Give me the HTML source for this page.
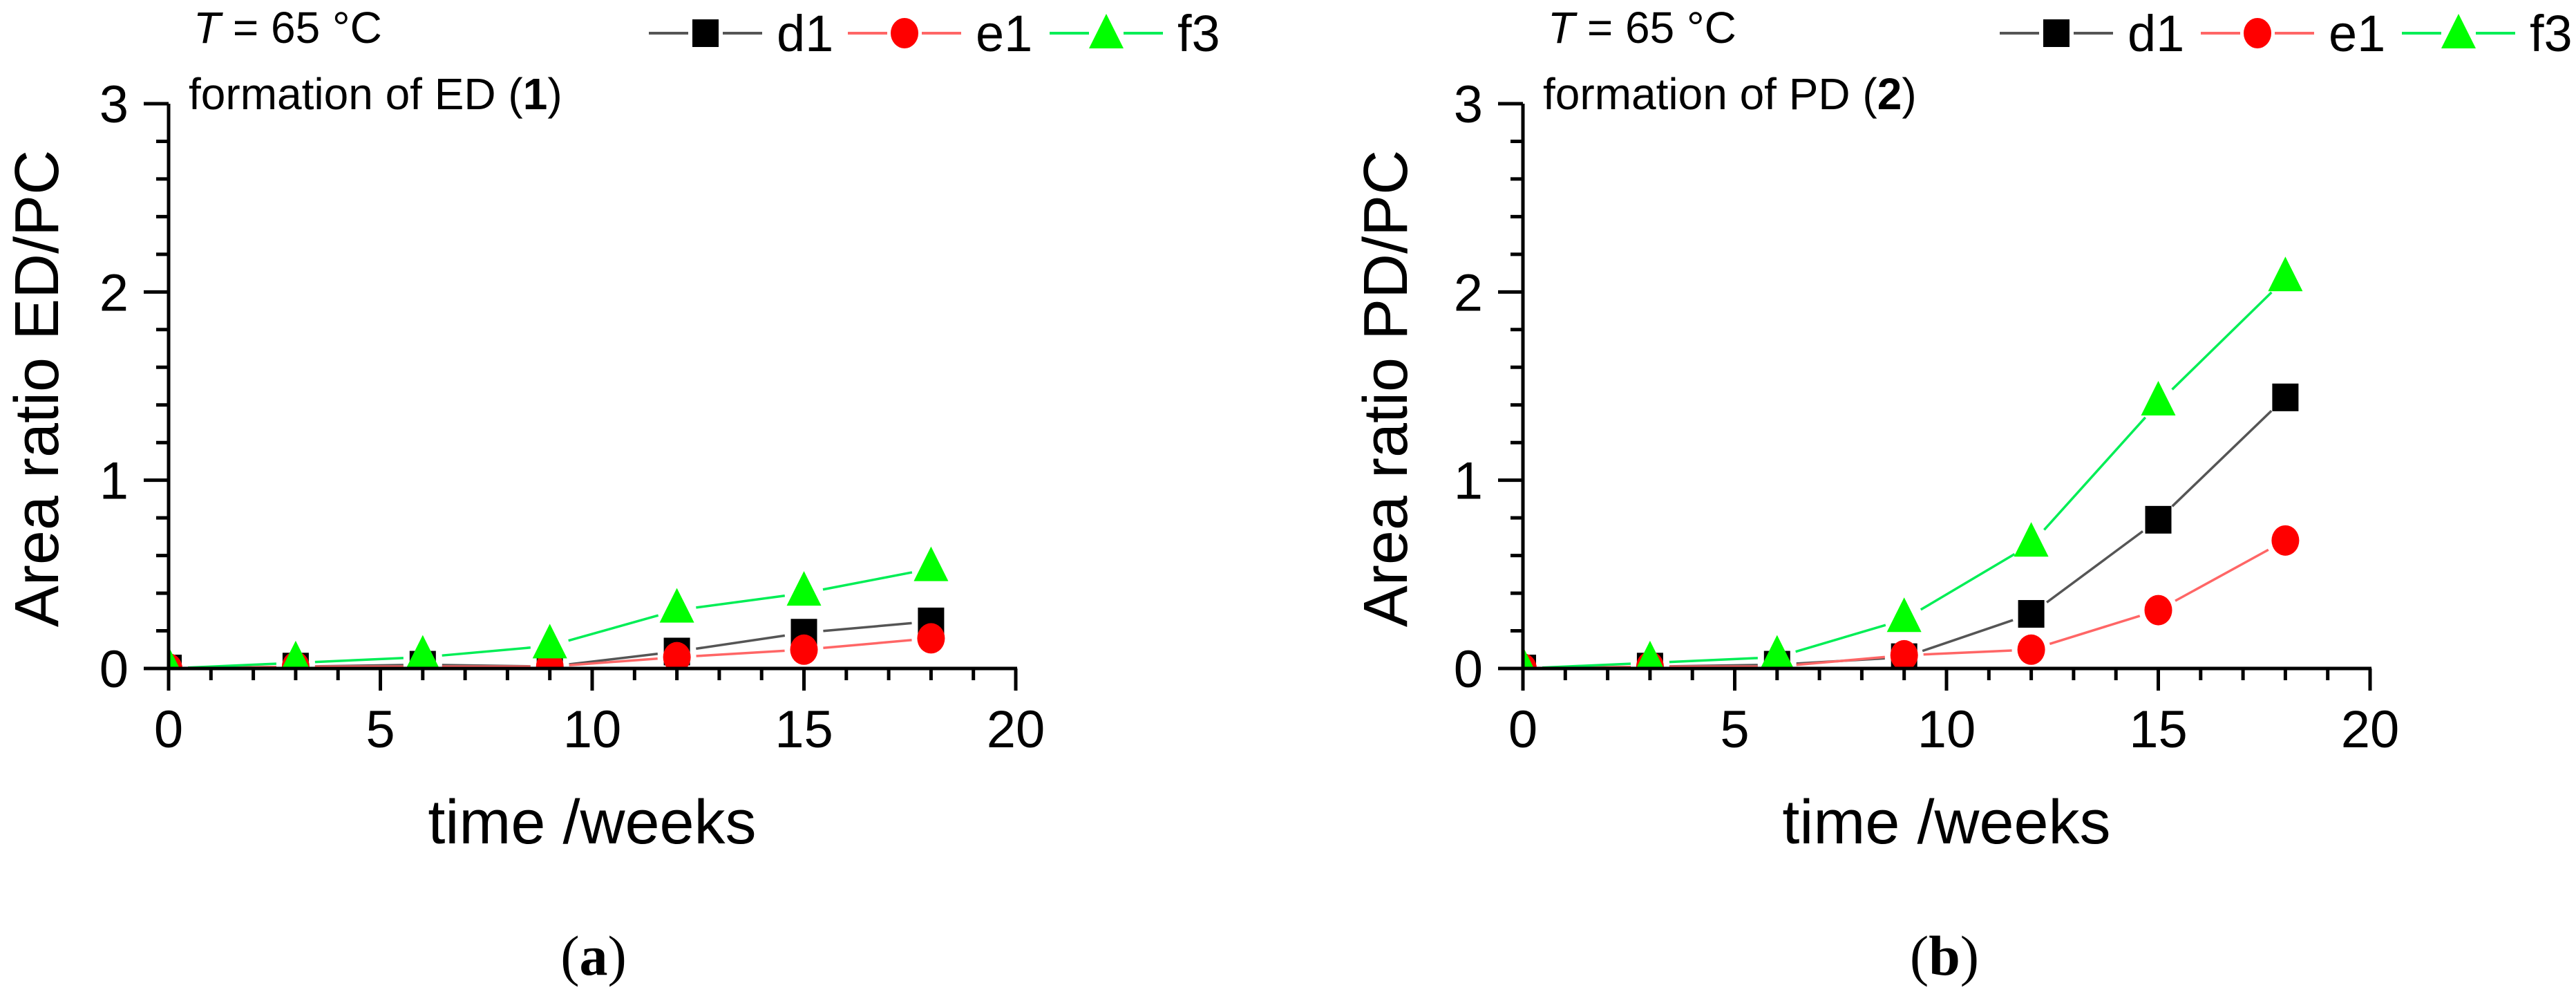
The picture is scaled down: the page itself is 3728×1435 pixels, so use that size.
<!DOCTYPE html>
<html><head><meta charset="utf-8">
<style>
html,body{margin:0;padding:0;background:#fff;}
svg{display:block;font-family:"Liberation Sans",Arial,sans-serif;}
</style></head>
<body>
<svg id="fig" width="3728" height="1435" viewBox="0 0 3728 1435" xmlns="http://www.w3.org/2000/svg"></svg>
<script>
const weeks = [0, 3, 6, 9, 12, 15, 18];
const edD1 = [0.0, 0.01, 0.02, 0.01, 0.09, 0.19, 0.25];
const edE1 = [0.0, 0.01, 0.01, 0.01, 0.06, 0.10, 0.16];
const edF3 = [0.0, 0.03, 0.06, 0.12, 0.31, 0.40, 0.53];
const pdD1 = [0.0, 0.01, 0.02, 0.06, 0.29, 0.79, 1.44];
const pdE1 = [0.0, 0.01, 0.01, 0.07, 0.10, 0.31, 0.68];
const pdF3 = [0.0, 0.03, 0.06, 0.26, 0.66, 1.41, 2.07];
const xTicks = [0, 5, 10, 15, 20];
const yTicks = [0, 1, 2, 3];
const seriesNames = ["d1", "e1", "f3"];

const NS = "http://www.w3.org/2000/svg";
const svg = document.getElementById("fig");
function mk(tag, attrs, parent, text) {
  const e = document.createElementNS(NS, tag);
  for (const k in attrs) e.setAttribute(k, attrs[k]);
  if (text !== undefined) e.textContent = text;
  (parent || svg).appendChild(e);
  return e;
}
const styles = {
  d1: {line: "#555555", fill: "#000000", shape: "square"},
  e1: {line: "#ff6666", fill: "#ff0000", shape: "circle"},
  f3: {line: "#00ee55", fill: "#00ff00", shape: "triangle"}
};
function marker(g, shape, cx, cy, fill, name) {
  let m;
  if (shape === "square") m = mk("rect", {x: cx - 19, y: cy - 20, width: 38, height: 40, fill: fill}, g);
  else if (shape === "circle") m = mk("ellipse", {cx: cx, cy: cy, rx: 20, ry: 22, fill: fill}, g);
  else m = mk("polygon", {points: `${cx},${cy - 32} ${cx - 25},${cy + 18} ${cx + 25},${cy + 18}`, fill: fill}, g);
  
  
  return m;
}
const defs = mk("defs", {});

function panel(cfg) {
  const g = mk("g", {});
  
  
  const X0 = cfg.x0, X1 = cfg.x0 + 1226, Y0 = 967, Y1 = 150;
  const sx = v => X0 + (v / 20) * (X1 - X0);
  const sy = v => Y0 - (v / 3) * (Y0 - Y1);
  const cp = mk("clipPath", {id: "clip-" + cfg.name}, defs);
  mk("rect", {x: X0, y: 0, width: X1 - X0 + 60, height: Y0}, cp);
  const dataG = mk("g", {"clip-path": `url(#clip-${cfg.name})`}, g);
  
  
  const series = [["d1", cfg.d1], ["e1", cfg.e1], ["f3", cfg.f3]];
  series.forEach(([nm, vals]) => {
    const st = styles[nm];
    const sg = mk("g", {}, dataG);
    
    
    for (let i = 0; i < weeks.length - 1; i++) {
      const ax = sx(weeks[i]), ay = sy(vals[i]), bx = sx(weeks[i + 1]), by = sy(vals[i + 1]);
      const dx = bx - ax, dy = by - ay, L = Math.hypot(dx, dy), gap = 28;
      if (L <= 2 * gap) continue;
      const ux = dx / L, uy = dy / L;
      const seg = mk("line", {x1: ax + ux * gap, y1: ay + uy * gap, x2: bx - ux * gap, y2: by - uy * gap, stroke: st.line, "stroke-width": 3.5}, sg);
      
      
    }
    weeks.forEach((w, i) => marker(sg, st.shape, sx(w), sy(vals[i]), st.fill, 'point-' + nm));
  });
  const ax = mk("g", {stroke: "#000", "stroke-width": 5}, g);
  
  
  mk("line", {x1: X0, y1: Y0, x2: X1 + 2, y2: Y0}, ax);
  mk("line", {x1: X0, y1: Y0 + 2, x2: X0, y2: Y1}, ax);
  for (let v = 0; v <= 20; v++) {
    const major = v % 5 === 0;
    mk("line", {x1: sx(v), y1: Y0, x2: sx(v), y2: Y0 + (major ? 32 : 17)}, ax);
  }
  for (let k = 0; k <= 15; k++) {
    const v = k * 0.2, major = k % 5 === 0;
    mk("line", {x1: X0, y1: sy(v), x2: X0 - (major ? 36 : 18), y2: sy(v)}, ax);
  }
  xTicks.forEach(t => {
    const e = mk("text", {x: sx(t), y: Y0 + 114, "font-size": 76, "text-anchor": "middle"}, g, String(t));
    
    
  });
  yTicks.forEach(t => {
    const e = mk("text", {x: X0 - 58, y: sy(t) + 27, "font-size": 76, "text-anchor": "end"}, g, String(t));
    
    
  });
  let e = mk("text", {x: (X0 + X1) / 2, y: 1220, "font-size": 90, "text-anchor": "middle"}, g, "time /weeks");
  
  
  e = mk("text", {x: 0, y: 0, "font-size": 90, "text-anchor": "middle", transform: `translate(${cfg.ytx},562) rotate(-90)`}, g, cfg.ytitle);
  
  
  e = mk("text", {x: X0 + 36, y: 62, "font-size": 64}, g);
  
  
  mk("tspan", {"font-style": "italic"}, e, "T");
  mk("tspan", {}, e, " = 65 °C");
  e = mk("text", {x: X0 + 29, y: 158, "font-size": 64}, g);
  
  
  mk("tspan", {}, e, cfg.form);
  mk("tspan", {"font-weight": "bold"}, e, cfg.num);
  mk("tspan", {}, e, ")");
  const lg = mk("g", {}, g);
  
  
  seriesNames.forEach((nm, i) => {
    const st = styles[nm];
    const lx = cfg.legX[i], ly = 48;
    const ent = mk("g", {}, lg);
    
    
    mk("line", {x1: lx - 82, y1: ly, x2: lx - 25, y2: ly, stroke: st.line, "stroke-width": 4}, ent);
    mk("line", {x1: lx + 25, y1: ly, x2: lx + 82, y2: ly, stroke: st.line, "stroke-width": 4}, ent);
    marker(ent, st.shape, lx, ly + (st.shape === "triangle" ? 4 : 0), st.fill, 'legend-marker-' + nm);
    mk("text", {x: lx + 103, y: ly + 26, "font-size": 74}, ent, nm);
  });
  e = mk("text", {x: cfg.capX, y: 1410, "font-size": 82, "text-anchor": "middle", "font-family": "'Liberation Serif',serif"}, g);
  
  
  mk("tspan", {}, e, "(");
  mk("tspan", {"font-weight": "bold"}, e, cfg.cap);
  mk("tspan", {}, e, ")");
}

panel({name: "panel-a", x0: 244, d1: edD1, e1: edE1, f3: edF3, ytitle: "Area ratio ED/PC", ytx: 84,
  form: "formation of ED (", num: "1", legX: [1021, 1309, 1601], cap: "a", capX: 859});
panel({name: "panel-b", x0: 2204, d1: pdD1, e1: pdE1, f3: pdF3, ytitle: "Area ratio PD/PC", ytx: 2036,
  form: "formation of PD (", num: "2", legX: [2976, 3267, 3558], cap: "b", capX: 2814});
</script>
</body></html>
